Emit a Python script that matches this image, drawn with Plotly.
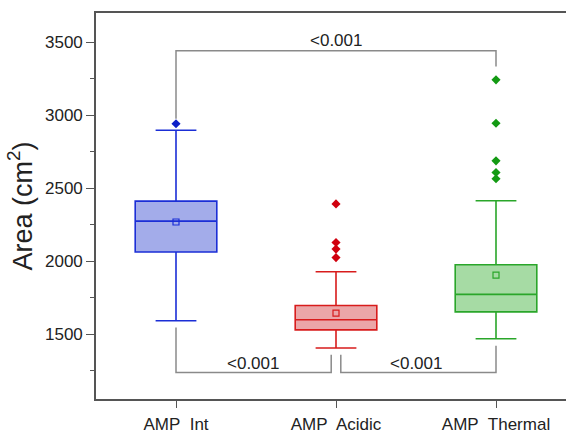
import plotly.graph_objects as go

categories = ["AMP\u00a0 Int", "AMP\u00a0 Acidic", "AMP\u00a0 Thermal"]
q1 = [2062, 1529, 1652]
median = [2274, 1598, 1772]
q3 = [2411, 1696, 1975]
lower = [1591, 1404, 1468]
upper = [2897, 1927, 2413]
means = [2268, 1643, 1904]
outliers = [[2941], [2392, 2127, 2082, 2024], [3242, 2945, 2687, 2607, 2564]]

line_colors = ["#1b2ed6", "#d81c1c", "#2aa62a"]
fill_colors = ["#a3acea", "#eba6a8", "#a6dba4"]
dot_colors = ["#0d1fc8", "#d0000e", "#139a13"]

# significance brackets: (x_left, x_right, y_bar, y_left_end, y_right_end, label_x, label_y, text)
brackets = [
    (0, 2, 3442, 2975, 3333, 1, 3512, "<0.001"),
    (0, 0.97, 1237, 1545, 1358, 0.48, 1297, "<0.001"),
    (1.03, 2, 1237, 1358, 1420, 1.5, 1297, "<0.001"),
]

fig = go.Figure()
for i, c in enumerate(categories):
    fig.add_trace(go.Box(
        x=[c], q1=[q1[i]], median=[median[i]], q3=[q3[i]],
        lowerfence=[lower[i]], upperfence=[upper[i]],
        boxpoints=False, width=0.51, whiskerwidth=0.5,
        fillcolor=fill_colors[i], line=dict(color=line_colors[i], width=1.6),
        showlegend=False, hoverinfo="skip"))
    fig.add_trace(go.Scatter(
        x=[c], y=[means[i]], mode="markers",
        marker=dict(symbol="square-open", size=6, color=line_colors[i], line=dict(width=1.2)),
        showlegend=False))
    fig.add_trace(go.Scatter(
        x=[c] * len(outliers[i]), y=outliers[i], mode="markers",
        marker=dict(symbol="diamond", size=7, color=dot_colors[i]),
        showlegend=False))

for xl, xr, yb, yl, yr, lx, ly, t in brackets:
    fig.add_shape(type="path",
                  path=f"M {xl},{yl} L {xl},{yb} L {xr},{yb} L {xr},{yr}",
                  line=dict(color="#8a8a8a", width=1.5), xref="x", yref="y")
    fig.add_annotation(x=lx, y=ly, text=t, showarrow=False, xref="x", yref="y",
                       font=dict(size=17, color="#222", family="Liberation Sans, Arial"))

fig.update_layout(
    width=566, height=434,
    margin=dict(l=96, r=0, t=13, b=35),
    plot_bgcolor="white", paper_bgcolor="white",
    boxmode="overlay",
    font=dict(family="Liberation Sans, Arial", color="#222"),
    xaxis=dict(type="category", categoryorder="array", categoryarray=categories,
               range=[-0.5, 2.4375], showline=True, mirror=True, linecolor="#555", linewidth=1.6,
               ticks="outside", ticklen=7, tickcolor="#555", tickwidth=1.4, automargin=False,
               tickfont=dict(size=17), showgrid=False, zeroline=False, ticklabelstandoff=2),
    yaxis=dict(range=[1055, 3700], tickvals=[1500, 2000, 2500, 3000, 3500],
               showline=True, linecolor="#555", linewidth=1.6, automargin=False,
               ticks="outside", ticklen=8, tickcolor="#555", tickwidth=1.4,
               minor=dict(dtick=250, tick0=0, ticks="outside", ticklen=4, tickcolor="#555", tickwidth=1.2),
               tickfont=dict(size=17), showgrid=False, zeroline=False,
               title=dict(text="Area (cm<sup>2</sup>)", font=dict(size=27), standoff=5)),
)

fig.write_html("out.html")
